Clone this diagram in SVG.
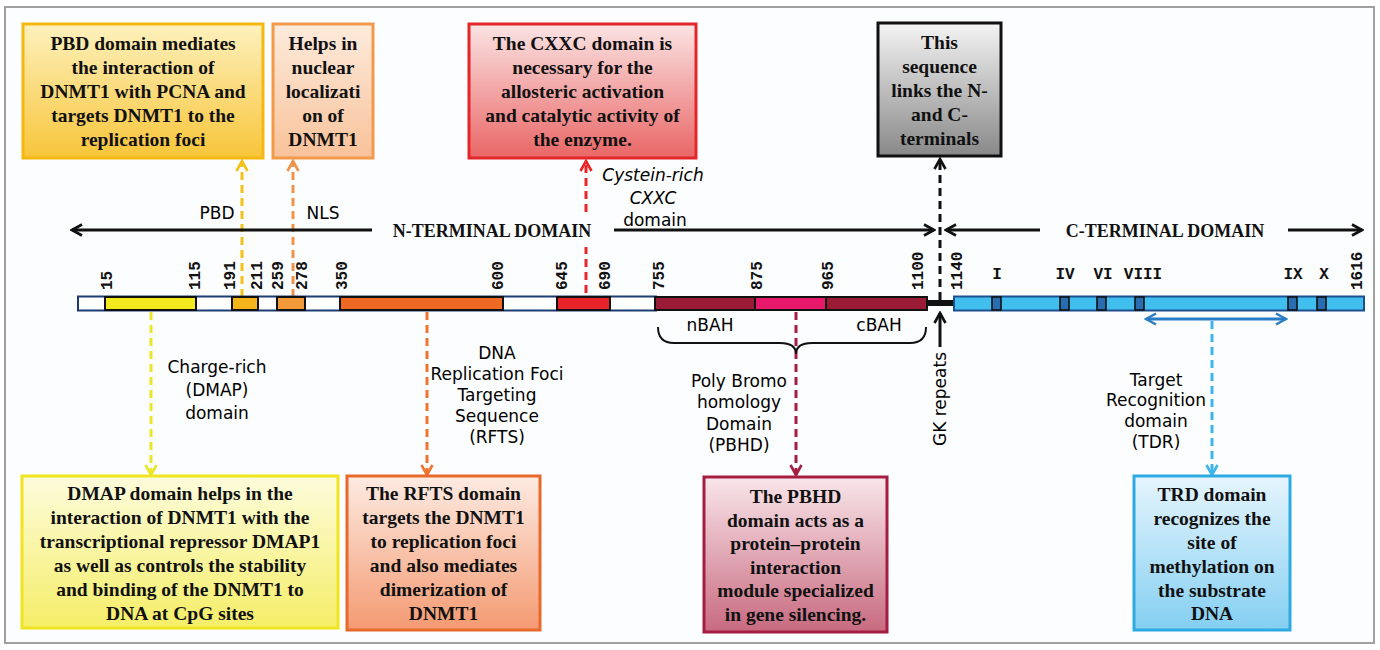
<svg xmlns="http://www.w3.org/2000/svg" width="1380" height="650" viewBox="0 0 1380 650">
<defs>
<style>
.bt{font-family:"Liberation Serif","Times New Roman",serif;font-weight:bold;font-size:19.5px;fill:#111;text-anchor:middle}
.tt{font-family:"Liberation Serif","Times New Roman",serif;font-weight:bold;font-size:18px;fill:#111;text-anchor:middle}
.cl{font-family:"DejaVu Sans",sans-serif;font-size:17px;fill:#000;text-anchor:middle}
.num{font-family:"Liberation Mono","Courier New",monospace;font-weight:bold;font-size:16px;fill:#111}
.mot{font-family:"Liberation Mono","Courier New",monospace;font-weight:bold;font-size:16px;fill:#111;text-anchor:middle}
.seg{stroke:#111;stroke-width:2}
.mo{fill:#2a6cb0;stroke:#111;stroke-width:1.6}
.dash{fill:none;stroke-width:3;stroke-dasharray:8 5}
.solid{fill:none;stroke-width:3}
</style>
<linearGradient id="gPBD" x1="0" y1="0" x2="0" y2="1"><stop offset="0" stop-color="#fdf1bd"/><stop offset="1" stop-color="#f8c53a"/></linearGradient>
<linearGradient id="gNLS" x1="0" y1="0" x2="0" y2="1"><stop offset="0" stop-color="#fdebdc"/><stop offset="1" stop-color="#f8c29a"/></linearGradient>
<linearGradient id="gCXXC" x1="0" y1="0" x2="0" y2="1"><stop offset="0" stop-color="#fbe4e4"/><stop offset="1" stop-color="#ea6666"/></linearGradient>
<linearGradient id="gLNK" x1="0" y1="0" x2="0" y2="1"><stop offset="0" stop-color="#f4f4f4"/><stop offset="1" stop-color="#888"/></linearGradient>
<linearGradient id="gDMAP" x1="0" y1="0" x2="0" y2="1"><stop offset="0" stop-color="#fdfcdc"/><stop offset="1" stop-color="#f5ee68"/></linearGradient>
<linearGradient id="gRFTS" x1="0" y1="0" x2="0" y2="1"><stop offset="0" stop-color="#fdebe2"/><stop offset="1" stop-color="#f49a72"/></linearGradient>
<linearGradient id="gPBHD" x1="0" y1="0" x2="0" y2="1"><stop offset="0" stop-color="#f9e6ea"/><stop offset="1" stop-color="#c86a80"/></linearGradient>
<linearGradient id="gTRD" x1="0" y1="0" x2="0" y2="1"><stop offset="0" stop-color="#e6f5fd"/><stop offset="1" stop-color="#84cff2"/></linearGradient>
<marker id="aK" viewBox="0 0 14 14" refX="12" refY="7" markerWidth="14" markerHeight="14" markerUnits="userSpaceOnUse" orient="auto-start-reverse"><path d="M2,1.5 L12,7 L2,12.5" fill="none" stroke="#111" stroke-width="2.6"/></marker>
<marker id="aY" viewBox="0 0 14 14" refX="12" refY="7" markerWidth="14" markerHeight="14" markerUnits="userSpaceOnUse" orient="auto-start-reverse"><path d="M2,1.5 L12,7 L2,12.5" fill="none" stroke="#f5c21a" stroke-width="2.6"/></marker>
<marker id="aO" viewBox="0 0 14 14" refX="12" refY="7" markerWidth="14" markerHeight="14" markerUnits="userSpaceOnUse" orient="auto-start-reverse"><path d="M2,1.5 L12,7 L2,12.5" fill="none" stroke="#f0934a" stroke-width="2.6"/></marker>
<marker id="aR" viewBox="0 0 14 14" refX="12" refY="7" markerWidth="14" markerHeight="14" markerUnits="userSpaceOnUse" orient="auto-start-reverse"><path d="M2,1.5 L12,7 L2,12.5" fill="none" stroke="#e8262a" stroke-width="2.6"/></marker>
<marker id="aL" viewBox="0 0 14 14" refX="12" refY="7" markerWidth="14" markerHeight="14" markerUnits="userSpaceOnUse" orient="auto-start-reverse"><path d="M2,1.5 L12,7 L2,12.5" fill="none" stroke="#ebe62a" stroke-width="2.6"/></marker>
<marker id="aD" viewBox="0 0 14 14" refX="12" refY="7" markerWidth="14" markerHeight="14" markerUnits="userSpaceOnUse" orient="auto-start-reverse"><path d="M2,1.5 L12,7 L2,12.5" fill="none" stroke="#ef7430" stroke-width="2.6"/></marker>
<marker id="aM" viewBox="0 0 14 14" refX="12" refY="7" markerWidth="14" markerHeight="14" markerUnits="userSpaceOnUse" orient="auto-start-reverse"><path d="M2,1.5 L12,7 L2,12.5" fill="none" stroke="#a31f42" stroke-width="2.6"/></marker>
<marker id="aC" viewBox="0 0 14 14" refX="12" refY="7" markerWidth="14" markerHeight="14" markerUnits="userSpaceOnUse" orient="auto-start-reverse"><path d="M2,1.5 L12,7 L2,12.5" fill="none" stroke="#3db5ea" stroke-width="2.6"/></marker>
<marker id="aB" viewBox="0 0 14 14" refX="12" refY="7" markerWidth="14" markerHeight="14" markerUnits="userSpaceOnUse" orient="auto-start-reverse"><path d="M2,1.5 L12,7 L2,12.5" fill="none" stroke="#2a7cc6" stroke-width="2.4"/></marker>
</defs>
<rect width="1380" height="650" fill="#fff"/>
<rect x="5" y="7" width="1369" height="636" fill="#fcfdfe" stroke="#a0a0a0" stroke-width="2"/>

<g id="connectors">
<path class="dash" stroke="#f5c21a" d="M242,297 V161" marker-end="url(#aY)"/>
<path class="dash" stroke="#f0934a" d="M293,297 V161" marker-end="url(#aO)"/>
<path class="dash" stroke="#e8262a" d="M586,293 V247 M586,212 V161" marker-end="url(#aR)"/>
<path class="dash" stroke="#111" d="M940,300 V159" marker-end="url(#aK)"/>
<path class="solid" stroke="#111" d="M372,230 H72" marker-end="url(#aK)"/>
<path class="solid" stroke="#111" d="M614,230 H934" marker-end="url(#aK)"/>
<path class="solid" stroke="#111" d="M1040,230 H946" marker-end="url(#aK)"/>
<path class="solid" stroke="#111" d="M1288,230 H1362" marker-end="url(#aK)"/>
<path class="dash" stroke="#ebe62a" d="M151,312 V475" marker-end="url(#aL)"/>
<path class="dash" stroke="#ef7430" d="M427,312 V475" marker-end="url(#aD)"/>
<path class="dash" stroke="#a31f42" d="M796,312 V475" marker-end="url(#aM)"/>
<path class="dash" stroke="#3db5ea" d="M1212,321 V475" marker-end="url(#aC)"/>
<path class="solid" stroke="#2a7cc6" stroke-width="2.4" d="M1146,319 H1286" marker-start="url(#aB)" marker-end="url(#aB)"/>
<path class="solid" stroke="#111" d="M940,347 V313" marker-end="url(#aK)"/>
<path fill="none" stroke="#111" stroke-width="2" d="M658,327 Q658,343 674,343 L780,343 Q796,343 796,354 Q796,343 812,343 L910,343 Q926,343 926,327"/>
</g>

<g id="box-pbd">
<rect x="23" y="24" width="240" height="134" fill="url(#gPBD)" stroke="#f5b810" stroke-width="3"/>
<text class="bt" x="143" y="50">PBD domain mediates</text>
<text class="bt" x="143" y="74">the interaction of</text>
<text class="bt" x="143" y="98">DNMT1 with PCNA and</text>
<text class="bt" x="143" y="122">targets DNMT1 to the</text>
<text class="bt" x="143" y="146">replication foci</text>
</g>
<g id="box-nls">
<rect x="273" y="24" width="100" height="134" fill="url(#gNLS)" stroke="#f29a4a" stroke-width="3"/>
<text class="bt" x="323" y="50">Helps in</text>
<text class="bt" x="323" y="74">nuclear</text>
<text class="bt" x="323" y="98">localizati</text>
<text class="bt" x="323" y="122">on of</text>
<text class="bt" x="323" y="146">DNMT1</text>
</g>
<g id="box-cxxc">
<rect x="469" y="24" width="227" height="134" fill="url(#gCXXC)" stroke="#e3262a" stroke-width="3"/>
<text class="bt" x="582.5" y="50">The CXXC domain is</text>
<text class="bt" x="582.5" y="74">necessary for the</text>
<text class="bt" x="582.5" y="98">allosteric activation</text>
<text class="bt" x="582.5" y="122">and catalytic activity of</text>
<text class="bt" x="582.5" y="146">the enzyme.</text>
</g>
<g id="box-link">
<rect x="878" y="23" width="123" height="133" fill="url(#gLNK)" stroke="#111" stroke-width="3"/>
<text class="bt" x="939.5" y="49">This</text>
<text class="bt" x="939.5" y="73">sequence</text>
<text class="bt" x="939.5" y="97">links the N-</text>
<text class="bt" x="939.5" y="121">and C-</text>
<text class="bt" x="939.5" y="145">terminals</text>
</g>

<g id="label-nterm"><text class="tt" x="492" y="237">N-TERMINAL DOMAIN</text></g>
<g id="label-cterm"><text class="tt" x="1165" y="237">C-TERMINAL DOMAIN</text></g>
<g id="label-pbd"><text class="cl" x="217" y="219">PBD</text></g>
<g id="label-nls"><text class="cl" x="323" y="219">NLS</text></g>
<g id="label-cxxc">
<text class="cl" x="653" y="181" font-style="italic">Cystein-rich</text>
<text class="cl" x="653" y="204" font-style="italic">CXXC</text>
<text class="cl" x="655" y="226">domain</text>
</g>

<g id="bar">
<rect x="78" y="296.5" width="578" height="14" fill="#fff" stroke="#1c3d73" stroke-width="2"/>
<rect class="seg" x="105" y="297" width="91" height="13" fill="#f2ea1c"/>
<rect class="seg" x="232" y="297" width="26" height="13" fill="#f6b41c"/>
<rect class="seg" x="277" y="297" width="28" height="13" fill="#f39a3a"/>
<rect class="seg" x="340" y="297" width="163" height="13" fill="#ee6a24"/>
<rect class="seg" x="557" y="297" width="53" height="13" fill="#e8242a"/>
<rect class="seg" x="655" y="297" width="100" height="13" fill="#9a1b35"/>
<rect class="seg" x="755" y="297" width="71" height="13" fill="#e8186a"/>
<rect class="seg" x="826" y="297" width="101" height="13" fill="#9a1b35"/>
<rect x="927" y="300" width="28" height="6" fill="#111"/>
<rect x="954" y="296.5" width="410" height="14" fill="#40bfee" stroke="#1d4f8f" stroke-width="2"/>
<rect class="mo" x="992" y="297" width="9" height="13"/>
<rect class="mo" x="1060" y="297" width="9" height="13"/>
<rect class="mo" x="1097" y="297" width="9" height="13"/>
<rect class="mo" x="1135" y="297" width="9" height="13"/>
<rect class="mo" x="1288" y="297" width="9" height="13"/>
<rect class="mo" x="1317" y="297" width="9" height="13"/>
</g>

<g id="positions">
<text class="num" transform="translate(112,290) rotate(-90)">15</text>
<text class="num" transform="translate(200,290) rotate(-90)">115</text>
<text class="num" transform="translate(235,290) rotate(-90)">191</text>
<text class="num" transform="translate(262,290) rotate(-90)">211</text>
<text class="num" transform="translate(283,290) rotate(-90)">259</text>
<text class="num" transform="translate(307,290) rotate(-90)">278</text>
<text class="num" transform="translate(347,290) rotate(-90)">350</text>
<text class="num" transform="translate(503,290) rotate(-90)">600</text>
<text class="num" transform="translate(567,290) rotate(-90)">645</text>
<text class="num" transform="translate(610,290) rotate(-90)">690</text>
<text class="num" transform="translate(664,290) rotate(-90)">755</text>
<text class="num" transform="translate(762,290) rotate(-90)">875</text>
<text class="num" transform="translate(833,290) rotate(-90)">965</text>
<text class="num" transform="translate(923,290) rotate(-90)">1100</text>
<text class="num" transform="translate(962,290) rotate(-90)">1140</text>
<text class="num" transform="translate(1362,290) rotate(-90)">1616</text>
<text class="mot" x="997" y="279">I</text>
<text class="mot" x="1065" y="279">IV</text>
<text class="mot" x="1103" y="279">VI</text>
<text class="mot" x="1143" y="279">VIII</text>
<text class="mot" x="1293" y="279">IX</text>
<text class="mot" x="1324" y="279">X</text>
</g>

<g id="label-bah">
<text class="cl" x="710" y="331">nBAH</text>
<text class="cl" x="879" y="331">cBAH</text>
</g>
<g id="label-dmap">
<text class="cl" x="217" y="373">Charge-rich</text>
<text class="cl" x="217" y="396">(DMAP)</text>
<text class="cl" x="217" y="419">domain</text>
</g>
<g id="label-rfts">
<text class="cl" x="497" y="359">DNA</text>
<text class="cl" x="497" y="380">Replication Foci</text>
<text class="cl" x="497" y="401">Targeting</text>
<text class="cl" x="497" y="422">Sequence</text>
<text class="cl" x="497" y="443">(RFTS)</text>
</g>
<g id="label-pbhd">
<text class="cl" x="739" y="387">Poly Bromo</text>
<text class="cl" x="739" y="408">homology</text>
<text class="cl" x="739" y="430">Domain</text>
<text class="cl" x="739" y="451">(PBHD)</text>
</g>
<g id="label-gk"><text class="cl" transform="translate(946,399) rotate(-90)">GK repeats</text></g>
<g id="label-trd">
<text class="cl" x="1156" y="386">Target</text>
<text class="cl" x="1156" y="406">Recognition</text>
<text class="cl" x="1156" y="427">domain</text>
<text class="cl" x="1156" y="448">(TDR)</text>
</g>

<g id="box-dmap">
<rect x="22" y="476" width="316" height="152" fill="url(#gDMAP)" stroke="#f0e420" stroke-width="3"/>
<text class="bt" x="180" y="500">DMAP  domain helps in the</text>
<text class="bt" x="180" y="524">interaction of DNMT1 with the</text>
<text class="bt" x="180" y="548">transcriptional repressor DMAP1</text>
<text class="bt" x="180" y="572">as well as controls the stability</text>
<text class="bt" x="180" y="596">and binding of the DNMT1 to</text>
<text class="bt" x="180" y="620">DNA at CpG sites</text>
</g>
<g id="box-rfts">
<rect x="347" y="476" width="193" height="154" fill="url(#gRFTS)" stroke="#e8692c" stroke-width="3"/>
<text class="bt" x="443.5" y="500">The RFTS domain</text>
<text class="bt" x="443.5" y="524">targets the DNMT1</text>
<text class="bt" x="443.5" y="548">to replication foci</text>
<text class="bt" x="443.5" y="572">and also mediates</text>
<text class="bt" x="443.5" y="596">dimerization of</text>
<text class="bt" x="443.5" y="620">DNMT1</text>
</g>
<g id="box-pbhd">
<rect x="704" y="477" width="183" height="155" fill="url(#gPBHD)" stroke="#a51d40" stroke-width="3"/>
<text class="bt" x="795.5" y="503">The PBHD</text>
<text class="bt" x="795.5" y="527">domain acts as a</text>
<text class="bt" x="795.5" y="550">protein–protein</text>
<text class="bt" x="795.5" y="574">interaction</text>
<text class="bt" x="795.5" y="597">module specialized</text>
<text class="bt" x="795.5" y="621">in gene silencing.</text>
</g>
<g id="box-trd">
<rect x="1134" y="476" width="156" height="154" fill="url(#gTRD)" stroke="#2eaae2" stroke-width="3"/>
<text class="bt" x="1212" y="501">TRD domain</text>
<text class="bt" x="1212" y="525">recognizes the</text>
<text class="bt" x="1212" y="549">site of</text>
<text class="bt" x="1212" y="573">methylation on</text>
<text class="bt" x="1212" y="597">the substrate</text>
<text class="bt" x="1212" y="620">DNA</text>
</g>
</svg>
